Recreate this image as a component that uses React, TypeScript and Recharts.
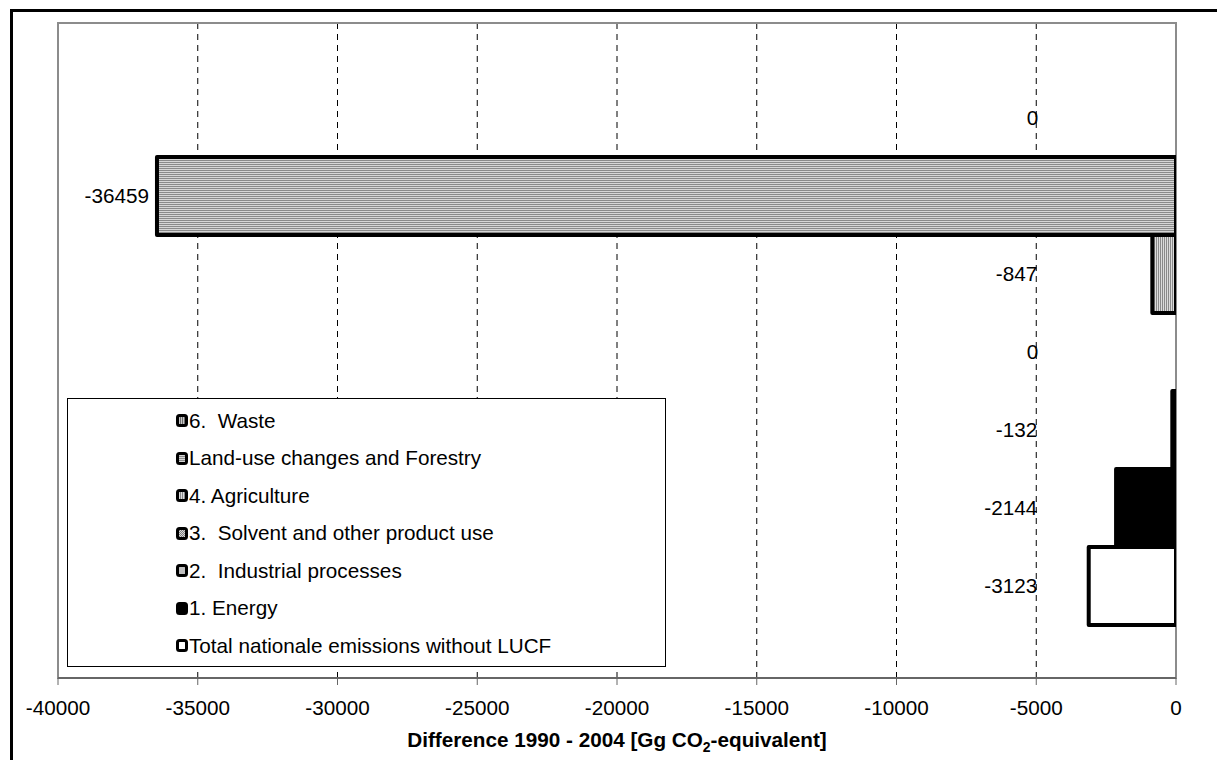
import { BarChart, Bar, XAxis, YAxis, CartesianGrid, ReferenceArea, LabelList, Legend, Rectangle } from 'recharts';

// emission change per sector, 1990 -> 2004 (Gg CO2-eq), top to bottom
const seriesKeys = ['waste', 'lucf', 'agriculture', 'solvent', 'industry', 'energy', 'total'];
const seriesNames = [
  '6.  Waste',
  'Land-use changes and Forestry',
  '4. Agriculture',
  '3.  Solvent and other product use',
  '2.  Industrial processes',
  '1. Energy',
  'Total nationale emissions without LUCF',
];
const seriesValues = [0, -36459, -847, 0, -132, -2144, -3123];
const xTicks = [-40000, -35000, -30000, -25000, -20000, -15000, -10000, -5000, 0];

// fill per series (patterns live in the chart's <defs>)
const seriesFills = ['url(#vStripesDark)', 'url(#hStripes)', 'url(#vStripes)', 'url(#dots)', '#c0c0c0', '#000000', '#ffffff'];

const X_MIN = -40000;
const X_MAX = 0;
const LABEL_AT = -5000; // small bars get their value printed at this x

const W = 1217;
const H = 760;
const MARGIN = { top: 23, right: 41, bottom: 0, left: 58 };
const FONT = '"Liberation Sans", Arial, sans-serif';
const FS = 20.7;

const row: Record<string, number | string> = { name: 'diff' };
seriesKeys.forEach((k, i) => {
  row[k] = seriesValues[i];
});
const data = [row];

const pxPerUnit = (W - MARGIN.left - MARGIN.right) / (X_MAX - X_MIN);

function ValueLabel(props: any) {
  const vb = props.viewBox ?? props;
  const x = Number(vb.x);
  const w = Number(vb.width) || 0;
  const y = Number(vb.y);
  const h = Number(vb.height) || 0;
  const left = Math.min(x, x + w);
  const right = Math.max(x, x + w);
  const anchorX = right + LABEL_AT * pxPerUnit + 1;
  const tx = left < anchorX ? left - 8 : anchorX;
  return (
    <text x={tx} y={y + h / 2} dy="0.36em" textAnchor="end" fontFamily={FONT} fontSize={FS} fill="#000">
      {props.value}
    </text>
  );
}

// zero-valued series keep their slot and label but draw no box
function SectorBar(props: any) {
  const v = props.payload?.[props.dataKey] ?? props.value;
  if (Number(Array.isArray(v) ? v[1] - v[0] : v) === 0) return <g />;
  return <Rectangle {...props} />;
}

function AxisTitle({ viewBox }: any) {
  const { x, y, width } = viewBox;
  return (
    <text x={x + width / 2} y={y + 69} textAnchor="middle" fontFamily={FONT} fontSize={FS} fontWeight="bold" fill="#000">
      Difference 1990 - 2004 [Gg CO
      <tspan fontSize={14} dy={5}>2</tspan>
      <tspan dy={-5}>-equivalent]</tspan>
    </text>
  );
}

function LegendBox() {
  return (
    <div
      style={{
        width: 599,
        height: 269,
        boxSizing: 'border-box',
        border: '1px solid #000',
        background: '#fff',
        paddingTop: 3,
        paddingLeft: 108,
        fontFamily: FONT,
        fontSize: FS,
        color: '#000',
      }}
    >
      {seriesNames.map((name, i) => (
        <div key={name} style={{ height: 37.5, display: 'flex', alignItems: 'center', whiteSpace: 'pre' }}>
          <svg width={12} height={13} style={{ marginRight: 1, flex: 'none' }}>
            <rect x={1.5} y={1.5} width={9} height={10} rx={2} fill={seriesFills[i]} stroke="#000" strokeWidth={3} />
          </svg>
          <span>{name}</span>
        </div>
      ))}
    </div>
  );
}

export default function App() {
  return (
    <div style={{ position: 'fixed', left: 0, top: 0, width: W, height: H, background: '#fff', overflow: 'hidden' }}>
      {/* outer frame */}
      <div
        style={{
          position: 'absolute',
          left: 10,
          top: 9,
          width: W,
          height: H,
          borderLeft: '3px solid #000',
          borderTop: '3px solid #000',
        }}
      />
      <div style={{ position: 'absolute', left: 0, top: 0 }}>
        <BarChart width={W} height={H} data={data} layout="vertical" margin={MARGIN} barCategoryGap={56} barGap={0}>
          <defs>
            <pattern id="hStripes" width={4} height={2} patternUnits="userSpaceOnUse">
              <rect width={4} height={2} fill="#d6d6d6" />
              <rect width={4} height={1} fill="#8a8a8a" />
            </pattern>
            <pattern id="vStripes" width={2} height={4} patternUnits="userSpaceOnUse">
              <rect width={2} height={4} fill="#dcdcdc" />
              <rect width={1} height={4} fill="#8a8a8a" />
            </pattern>
            <pattern id="vStripesDark" width={2} height={4} patternUnits="userSpaceOnUse">
              <rect width={2} height={4} fill="#c8c8c8" />
              <rect width={1} height={4} fill="#6e6e6e" />
            </pattern>
            <pattern id="dots" width={2} height={2} patternUnits="userSpaceOnUse">
              <rect width={2} height={2} fill="#d8d8d8" />
              <rect width={1} height={1} fill="#808080" />
              <rect x={1} y={1} width={1} height={1} fill="#808080" />
            </pattern>
          </defs>
          <CartesianGrid horizontal={false} stroke="#000" strokeDasharray="6 5" />
          <ReferenceArea x1={X_MIN} x2={X_MAX} fill="none" stroke="#8c8c8c" strokeWidth={2} />
          <XAxis
            type="number"
            domain={[X_MIN, X_MAX]}
            ticks={xTicks}
            allowDataOverflow
            height={82}
            axisLine={{ stroke: '#666', strokeWidth: 2 }}
            tickLine={{ stroke: '#666' }}
            tickSize={7}
            tickMargin={15}
            tick={{ fill: '#000', fontSize: FS, fontFamily: FONT }}
            label={<AxisTitle />}
          />
          <YAxis type="category" dataKey="name" hide />
          {seriesKeys.map((k, i) => (
            <Bar
              key={k}
              dataKey={k}
              name={seriesNames[i]}
              fill={seriesFills[i]}
              stroke="#000"
              strokeWidth={4}
              strokeLinejoin="round"
              minPointSize={1}
              shape={<SectorBar />}
              isAnimationActive={false}
            >
              <LabelList dataKey={k} content={<ValueLabel />} />
            </Bar>
          ))}
          <Legend
            layout="vertical"
            align="center"
            verticalAlign="middle"
            content={() => <LegendBox />}
            wrapperStyle={{ position: 'absolute', left: 67, top: 398, width: 599, height: 269 }}
          />
        </BarChart>
      </div>
    </div>
  );
}
